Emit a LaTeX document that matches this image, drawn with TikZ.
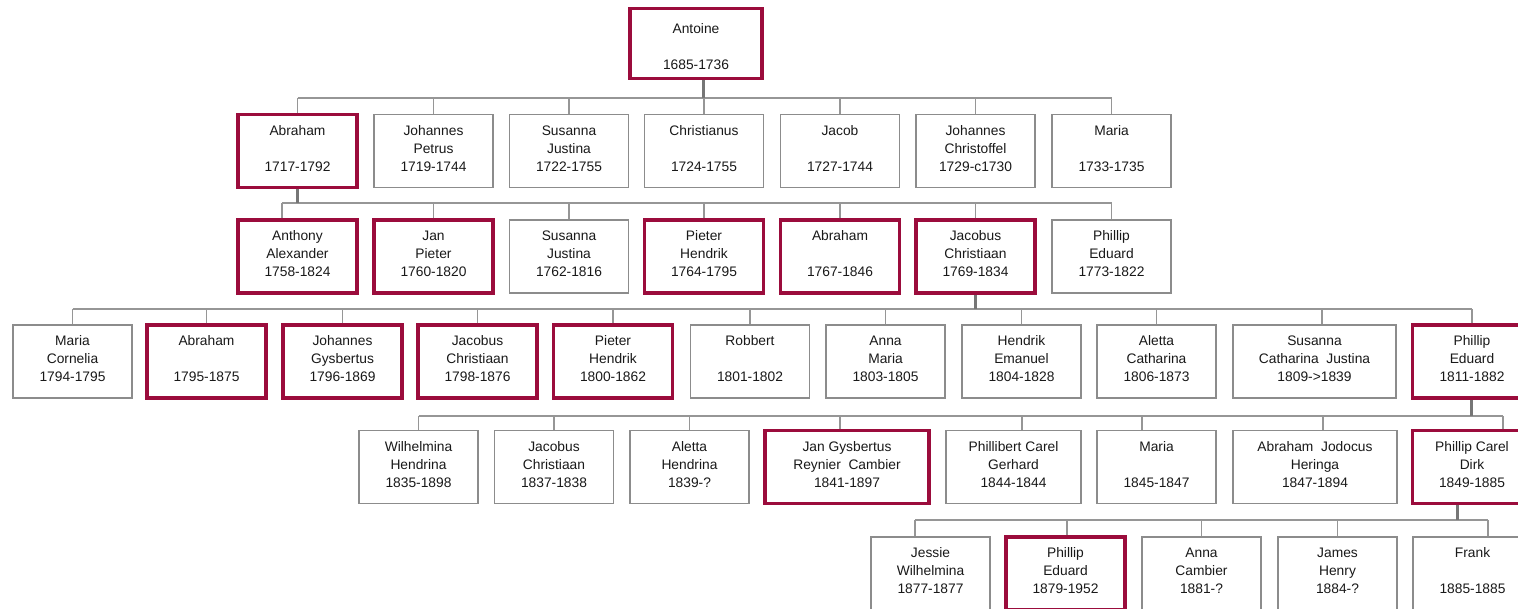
\documentclass[tikz,border=0pt]{standalone}
\usepackage{fontspec}
\setmainfont{Liberation Sans}
\definecolor{boxgrey}{RGB}{140,140,140}
\definecolor{linkgrey}{RGB}{150,150,150}
\definecolor{trunkgrey}{RGB}{118,118,118}
\definecolor{crim}{RGB}{155,12,60}
\definecolor{txt}{RGB}{25,25,25}
\tikzset{
  person/.style={draw=boxgrey, line width=1.7pt, fill=white, minimum width=119pt,
    minimum height=73pt, inner sep=0pt, align=center, text=txt,
    font=\fontsize{13.8}{18}\selectfont,
    execute at begin node=\rule{0pt}{15.6pt}, execute at end node=\strut},
  hl/.style={draw=crim, line width=3.5pt},
  link/.style={draw=linkgrey, line width=1.7pt},
  trunk/.style={draw=trunkgrey, line width=3pt},
}
\newcommand\pdrop[3][0]{\draw[link] ([xshift=#1pt]#2.north) -- ([xshift=#1pt]#2.north |- #3);}
\newcommand\ptrunk[3][0]{\draw[trunk] ([xshift=#1pt]#2.south) -- ([xshift=#1pt]#2.south |- #3);}
\newcommand\pbus[5]{\draw[link] ([xshift=#1pt]#3.north |- #5) -- ([xshift=#2pt]#4.north |- #5);}
\begin{document}
\begin{tikzpicture}[x=1pt,y=-1pt]
\useasboundingbox (0,0) rectangle (1518,608);
\clip (0,0) rectangle (1518,608);
\fill[white] (0,0) rectangle (1518,608);

\coordinate (y1) at (0,98);
\coordinate (y2) at (0,203);
\coordinate (y3) at (0,309);
\coordinate (y4) at (0,416);
\coordinate (y5) at (0,520);

% generation 0
\node[person,hl,minimum width=132pt,minimum height=70pt] (ant) at (696,43.5) {\rule{0pt}{22pt}Antoine\\~\\1685-1736};

% generation 1
\node[person,hl] (a1)   at (297.5,151) {Abraham\\~\\1717-1792};
\node[person]    (jp)   at (433.5,151) {Johannes\\Petrus\\1719-1744};
\node[person]    (sj1)  at (569,151)   {Susanna\\Justina\\1722-1755};
\node[person]    (chr)  at (704,151)   {Christianus\\~\\1724-1755};
\node[person]    (jac)  at (840,151)   {Jacob\\~\\1727-1744};
\node[person]    (jch)  at (975.5,151) {Johannes\\Christoffel\\1729-c1730};
\node[person]    (mar1) at (1111.5,151){Maria\\~\\1733-1735};

% generation 2
\node[person,hl] (aa)   at (297.5,256.5) {Anthony\\Alexander\\1758-1824};
\node[person,hl] (jpi)  at (433.5,256.5) {Jan\\Pieter\\1760-1820};
\node[person]    (sj2)  at (569,256.5)   {Susanna\\Justina\\1762-1816};
\node[person,hl] (ph2)  at (704,256.5)   {Pieter\\Hendrik\\1764-1795};
\node[person,hl] (ab2)  at (840,256.5)   {Abraham\\~\\1767-1846};
\node[person,hl] (jc2)  at (975.5,256.5) {Jacobus\\Christiaan\\1769-1834};
\node[person]    (pe2)  at (1111.5,256.5){Phillip\\Eduard\\1773-1822};

% generation 3
\node[person]    (mc)   at (72.5,361.5)  {Maria\\Cornelia\\1794-1795};
\node[person,hl] (ab3)  at (206.5,361.5) {Abraham\\~\\1795-1875};
\node[person,hl] (jg3)  at (342.5,361.5) {Johannes\\Gysbertus\\1796-1869};
\node[person,hl] (jc3)  at (477.5,361.5) {Jacobus\\Christiaan\\1798-1876};
\node[person,hl] (ph3)  at (613,361.5)   {Pieter\\Hendrik\\1800-1862};
\node[person]    (rob)  at (750,361.5)   {Robbert\\~\\1801-1802};
\node[person]    (am)   at (885.5,361.5) {Anna\\Maria\\1803-1805};
\node[person]    (he)   at (1021.5,361.5){Hendrik\\Emanuel\\1804-1828};
\node[person]    (ac3)  at (1156.5,361.5){Aletta\\Catharina\\1806-1873};
\node[person,minimum width=163pt] (scj) at (1314.5,361.5){Susanna\\Catharina\ \ Justina\\1809->1839};
\node[person,hl] (pe3)  at (1472,361.5)  {Phillip\\Eduard\\1811-1882};

% generation 4
\node[person]    (wh)   at (418.5,467) {Wilhelmina\\Hendrina\\1835-1898};
\node[person]    (jc4)  at (554,467)   {Jacobus\\Christiaan\\1837-1838};
\node[person]    (ah)   at (689.5,467) {Aletta\\Hendrina\\1839-?};
\node[person,hl,minimum width=164pt] (jg4) at (847,467) {Jan Gysbertus\\Reynier\ \ Cambier\\1841-1897};
\node[person,minimum width=135pt] (pcg) at (1013.5,467) {Phillibert Carel\\Gerhard\\1844-1844};
\node[person]    (mar4) at (1156.5,467){Maria\\~\\1845-1847};
\node[person,minimum width=164pt] (ajh) at (1315,467) {Abraham\ \ Jodocus\\Heringa\\1847-1894};
\node[person,hl] (pcd)  at (1472,467)  {Phillip Carel\\Dirk\\1849-1885};

% generation 5
\node[person]    (jw)   at (930.5,573.5)  {Jessie\\Wilhelmina\\1877-1877};
\node[person,hl] (pe5)  at (1065.5,573.5) {Phillip\\Eduard\\1879-1952};
\node[person]    (acm)  at (1201.5,573.5) {Anna\\Cambier\\1881-?};
\node[person]    (jh)   at (1337.5,573.5) {James\\Henry\\1884-?};
\node[person]    (fr)   at (1472.5,573.5) {Frank\\~\\1885-1885};

% family of Antoine
\pbus{0}{0}{a1}{mar1}{y1}
\pdrop{a1}{y1}
\pdrop{jp}{y1}
\pdrop{sj1}{y1}
\pdrop{chr}{y1}
\pdrop{jac}{y1}
\pdrop{jch}{y1}
\pdrop{mar1}{y1}
\ptrunk[7]{ant}{y1}

% family of Abraham
\pbus{-15.5}{0}{aa}{pe2}{y2}
\pdrop[-15.5]{aa}{y2}
\pdrop{jpi}{y2}
\pdrop{sj2}{y2}
\pdrop{ph2}{y2}
\pdrop{ab2}{y2}
\pdrop{jc2}{y2}
\pdrop{pe2}{y2}
\ptrunk{a1}{y2}

% family of Jacobus Christiaan
\pbus{0}{0}{mc}{pe3}{y3}
\pdrop{mc}{y3}
\pdrop{ab3}{y3}
\pdrop{jg3}{y3}
\pdrop{jc3}{y3}
\pdrop{ph3}{y3}
\pdrop{rob}{y3}
\pdrop{am}{y3}
\pdrop{he}{y3}
\pdrop{ac3}{y3}
\pdrop[7.5]{scj}{y3}
\pdrop{pe3}{y3}
\ptrunk[-0.5]{jc2}{y3}

% family of Phillip Eduard
\pbus{0}{31}{wh}{pcd}{y4}
\pdrop{wh}{y4}
\pdrop{jc4}{y4}
\pdrop{ah}{y4}
\pdrop[-7]{jg4}{y4}
\pdrop[8.5]{pcg}{y4}
\pdrop[-14.5]{mar4}{y4}
\pdrop[8]{ajh}{y4}
\pdrop[31]{pcd}{y4}
\ptrunk[-1]{pe3}{y4}

% family of Phillip Carel Dirk
\pbus{-15.5}{15.5}{jw}{fr}{y5}
\pdrop[-15.5]{jw}{y5}
\pdrop[1.5]{pe5}{y5}
\pdrop{acm}{y5}
\pdrop{jh}{y5}
\pdrop[15.5]{fr}{y5}
\ptrunk[-15]{pcd}{y5}
\end{tikzpicture}
\end{document}
